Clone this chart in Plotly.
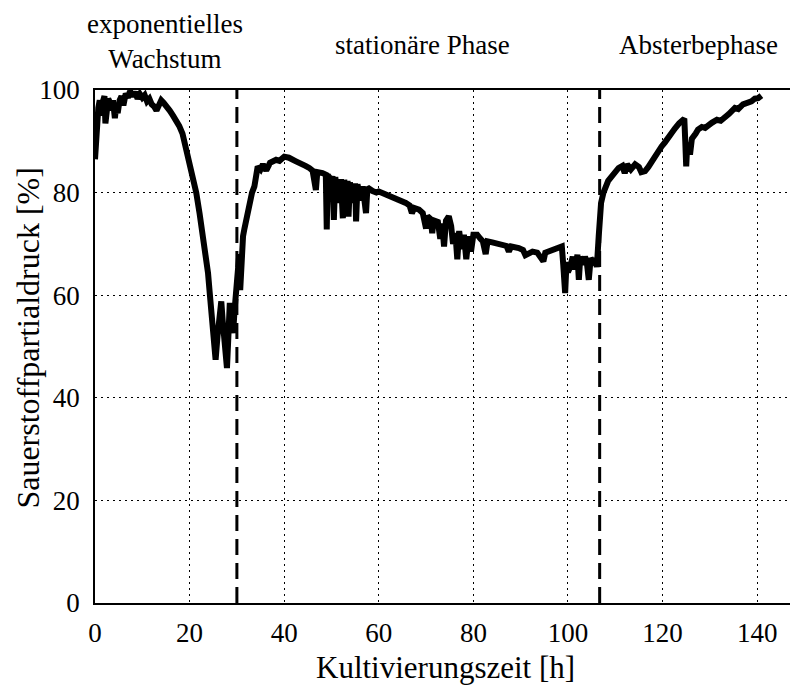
import plotly.graph_objects as go

# Sauerstoffpartialdruck über der Kultivierungszeit
time_h = [
    0, 0.2, 0.4, 0.7, 1.0, 1.3, 1.6, 2.0, 2.2, 2.5, 2.8, 3.2, 3.5, 3.8, 4.2, 4.5, 4.8,
    5.2, 5.6, 6.0, 6.5, 7.0, 7.4, 8.0, 8.5, 9.0, 9.5, 10.0, 10.5, 11.0, 11.5, 12.0,
    12.5, 13.0, 13.5, 14.0, 14.5, 15.0, 15.8, 16.5, 17.2, 17.8, 18.5, 19.0, 19.5,
    20.0, 20.7, 21.4, 22.1, 22.8, 23.4, 23.9, 24.3, 24.6, 25.0, 25.5, 25.9, 26.3,
    26.7, 27.0, 27.4, 27.9, 28.2, 28.5, 28.8, 29.2, 29.5, 29.7, 30.0, 30.2, 30.5,
    30.7, 31.0, 31.3, 31.6, 32.0, 32.4, 32.7, 33.2, 33.7, 34.1, 34.4, 35.0, 35.5,
    36.2, 37.0, 38.3, 39.0, 40.0, 41.0, 42.5, 43.5, 44.5, 45.3, 46.0, 46.7, 47.0,
    48.1, 48.8, 49.0, 49.2, 50.0, 50.2, 50.5, 50.8, 51.5, 52.0, 52.4, 52.7, 53.2,
    53.4, 53.6, 53.9, 54.5, 55.0, 55.2, 55.5, 56.2, 56.6, 57.3, 57.6, 58.7, 59.5,
    60.0, 61.0, 62.2, 63.5, 64.5, 65.7, 66.5, 67.0, 67.5, 68.5, 69.3, 70.0, 70.3,
    71.0, 71.3, 71.6, 72.5, 73.0, 73.4, 73.8, 74.2, 74.8, 75.3, 75.7, 76.2, 76.6,
    77.0, 77.5, 78.0, 78.5, 79.0, 79.5, 80.0, 80.8, 81.5, 82.0, 82.6, 83.0, 84.0,
    85.0, 86.1, 87.0, 87.5, 88.0, 89.6, 90.5, 91.0, 91.7, 92.5, 93.5, 94.3, 94.8,
    95.2, 96.0, 97.0, 98.0, 98.7, 99.0, 99.4, 99.7, 100.0, 100.5, 101.0, 101.5,
    102.0, 102.3, 102.6, 103.2, 103.6, 104.0, 104.4, 104.8, 105.3, 105.8, 106.1,
    106.5, 107.0, 107.5, 107.9, 108.5, 109.3, 110.0, 110.7, 111.5, 112.0, 112.5,
    113.3, 114.2, 115.0, 115.5, 116.3, 117.0, 117.7, 118.5, 119.2, 119.8, 120.5,
    121.2, 121.9, 122.6, 123.5, 124.2, 124.6, 124.8, 125.0, 125.2, 125.5, 125.8,
    126.2, 127.0, 127.5, 128.3, 129.0, 130.4, 131.5, 132.3, 133.2, 134.0, 135.3,
    136.0, 137.0, 138.0, 138.8, 139.5, 140.2, 140.9,
]
po2_pct = [
    86.5, 91, 94, 96.5, 98, 95, 97.5, 98.8, 93.5, 97, 98.3, 97.5, 96, 98, 94.5, 97, 95.5,
    98, 98.8, 97, 99.3, 98.5, 99.8, 98.8, 99.6, 98.3, 99.2, 98.5, 99, 97.8, 98.3, 97.2,
    96.8, 96, 97, 98, 97.5, 97, 96, 95, 94, 93, 91.5, 89.7, 87.5,
    85, 82.5, 80, 76, 72, 68, 64.3, 60, 56.5, 51, 47.4, 52, 56,
    58.8, 55, 51.3, 45.8, 52, 58.5, 56, 52.6, 57, 59.8, 63, 65.6, 68,
    61, 68, 71.5, 73, 74.7, 77, 78.6, 80, 81.2, 83.5, 85.1, 84.5, 85.5,
    84.3, 85.8, 86.4, 86.2, 87, 86.8, 86.1, 85.5, 85.2, 84.8, 84.3, 80.5, 84,
    83.8, 83.5, 72.8, 83.4, 82.5, 83.2, 74.7, 83, 78, 82.6, 75, 82.5, 77,
    82.3, 75.3, 82, 78, 81.8, 74.4, 81.6, 78.5, 81.2, 76, 81, 80.3, 80,
    80.2, 79.8, 79.6, 79, 78.5, 78, 77.5, 76, 77, 76.7, 76, 73, 75.4,
    74.8, 72.1, 74.6, 74.3, 71, 74, 69.5, 74.5, 75.4, 73.5, 70, 72.1, 67,
    72.5, 69, 71.8, 67, 71.5, 68.5, 71.8, 71.8, 71, 70.5, 68, 70.5, 70.3,
    70, 69.9, 69.6, 68.5, 69.5, 69.2, 68.8, 67.8, 68.2, 68.5, 68.3, 67.5, 66.6,
    68.3, 68.6, 69, 69.2, 69.5, 66, 60.4, 66.5, 64.5, 65.6, 67.5, 65,
    67.9, 63, 67.5, 66, 67.5, 66.3, 63, 67.2, 66.5, 67, 65.5,
    71.5, 78, 80, 81.2, 82.3, 83.2, 84.2, 84.8, 85.2, 83.8, 85.5,
    84.5, 85.5, 85, 84, 84.2, 85, 86.1, 87.2, 88, 89, 89.8,
    90.8, 91.6, 92.5, 93.5, 94.2, 94.4, 90, 85.1, 89, 89.7, 87.4,
    90.5, 91.5, 92.3, 92.8, 92.6, 93.6, 94.2, 94.0, 94.9, 95.3, 96.5,
    96.3, 97.2, 97.4, 97.8, 98.3, 98.4, 98.9,
]

# phase boundaries [h] and phase labels
phase_bounds = [30.0, 106.7]
phase_labels = ["exponentielles<br>Wachstum", "stationäre Phase", "Absterbephase"]
phase_label_x = [14.8, 69.2, 127.5]
phase_label_y = [1.094, 1.088, 1.088]

x_ticks = [0, 20, 40, 60, 80, 100, 120, 140]
y_ticks = [0, 20, 40, 60, 80, 100]

FONT = "Liberation Serif, Times New Roman, serif"

fig = go.Figure()

# -- phase boundaries (dashed) --------------------------------------------
for xb in phase_bounds:
    fig.add_trace(go.Scatter(
        x=[xb, xb], y=[0, 100],
        mode="lines",
        line=dict(color="black", width=3, dash="16px,8px"),
        hoverinfo="skip", showlegend=False,
    ))

# -- measured curve -------------------------------------------------------
fig.add_trace(go.Scatter(
    x=time_h, y=po2_pct,
    mode="lines",
    line=dict(color="black", width=6),
    showlegend=False,
))

for txt, xl, yl in zip(phase_labels, phase_label_x, phase_label_y):
    fig.add_annotation(
        x=xl, y=yl, xref="x", yref="paper",
        text=txt, showarrow=False,
        xanchor="center", yanchor="middle",
        font=dict(family=FONT, size=27, color="black"),
    )

# axis titles as annotations (placed where the reference has them)
fig.add_annotation(
    x=0.5, y=-0.126, xref="paper", yref="paper",
    text="Kultivierungszeit [h]", showarrow=False,
    xanchor="center", yanchor="middle",
    font=dict(family=FONT, size=31, color="black"),
)
fig.add_annotation(
    x=-0.096, y=0.517, xref="paper", yref="paper",
    text="Sauerstoffpartialdruck [%]", showarrow=False, textangle=-90,
    xanchor="center", yanchor="middle",
    font=dict(family=FONT, size=32, color="black"),
)

axis_common = dict(
    showline=True, linecolor="black", linewidth=1.5, mirror=True,
    showgrid=True, gridcolor="black", gridwidth=1, griddash="2px,4px",
    zeroline=False, ticks="",
    tickfont=dict(family=FONT, size=27, color="black"),
)

# page body has an 8px margin, so the figure is shrunk by 8px each way
fig.update_layout(
    width=790, height=678,
    margin=dict(l=87, r=1, t=82, b=83),
    plot_bgcolor="white", paper_bgcolor="white",
    xaxis=dict(range=[0, 148], tickvals=x_ticks, ticklabelstandoff=5, **axis_common),
    yaxis=dict(range=[0, 100], tickvals=y_ticks, ticklabelstandoff=8, **axis_common),
)

fig.write_html("out.html")
